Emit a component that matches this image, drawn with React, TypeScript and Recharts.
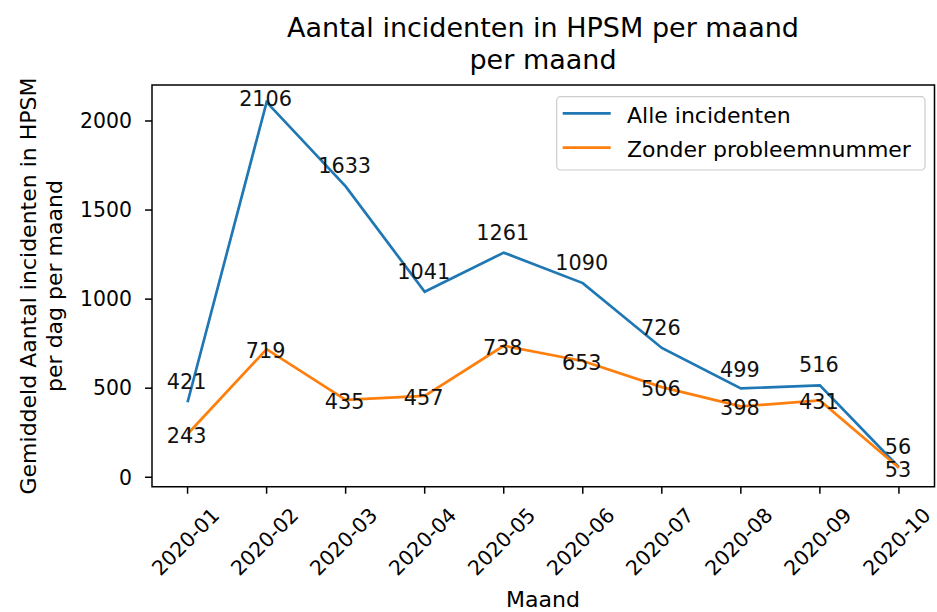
import React from 'react';
import { LineChart, Line, XAxis, YAxis, ReferenceArea, LabelList } from 'recharts';

const months = ['2020-01', '2020-02', '2020-03', '2020-04', '2020-05', '2020-06', '2020-07', '2020-08', '2020-09', '2020-10'];
const alleIncidenten = [421, 2106, 1633, 1041, 1261, 1090, 726, 499, 516, 56];
const zonderProbleemnummer = [243, 719, 435, 457, 738, 653, 506, 398, 431, 53];
const yTicks = [0, 500, 1000, 1500, 2000];
const titleLines = ['Aantal incidenten in HPSM per maand', 'per maand'];
const yLabelLines = ['Gemiddeld Aantal incidenten in HPSM', 'per dag per maand'];
const xLabelText = 'Maand';
const seriesNames = ['Alle incidenten', 'Zonder probleemnummer'];

const BLUE = '#1f77b4';
const ORANGE = '#ff7f0e';
const FONT = 'DejaVu Sans, sans-serif';

const data = months.map((m, i) => ({ x: i, month: m, alle: alleIncidenten[i], zonder: zonderProbleemnummer[i] }));

const XTick = (props: any) => {
  const { x, y, payload } = props;
  const label = months[payload.value];
  const cx = x - 2;
  const cy = y + 48;
  return (
    <text
      x={cx}
      y={cy}
      textAnchor="middle"
      dominantBaseline="central"
      transform={`rotate(-45, ${cx}, ${cy})`}
      fontSize={20.4}
      fontFamily={FONT}
      fill="#000"
    >
      {label}
    </text>
  );
};

const makeLabel = (kind: 'alle' | 'zonder') => (props: any) => {
  const { x, y, value, index } = props;
  let dy = 2;
  if (kind === 'alle') {
    dy = index === 1 ? -3 : index === 7 ? -18 : -20;
  }
  return (
    <text
      x={x - 1}
      y={y + dy}
      textAnchor="middle"
      dominantBaseline="central"
      fontSize={20.8}
      fontFamily={FONT}
      fill="#111"
    >
      {value}
    </text>
  );
};

const Overlay = () => (
  <g fontFamily={FONT} fill="#000">
    <text x={543} y={37} textAnchor="middle" fontSize={27}>{titleLines[0]}</text>
    <text x={543} y={69} textAnchor="middle" fontSize={27}>{titleLines[1]}</text>
    <text x={543} y={607} textAnchor="middle" fontSize={22}>{xLabelText}</text>
    <text x={36} y={286} textAnchor="middle" fontSize={22} transform="rotate(-90, 36, 286)">{yLabelLines[0]}</text>
    <text x={62} y={286} textAnchor="middle" fontSize={22} transform="rotate(-90, 62, 286)">{yLabelLines[1]}</text>
    <rect x={556.7} y={96.7} width={368.3} height={73.3} rx={4} ry={4} fill="#fff" fillOpacity={0.8} stroke="#cccccc" strokeWidth={1.2} />
    <line x1={562.7} x2={610.7} y1={113.3} y2={113.3} stroke={BLUE} strokeWidth={2.8} />
    <line x1={562.7} x2={610.7} y1={147.7} y2={147.7} stroke={ORANGE} strokeWidth={2.8} />
    <text x={627} y={122.7} fontSize={22}>{seriesNames[0]}</text>
    <text x={627} y={156.7} fontSize={22}>{seriesNames[1]}</text>
  </g>
);

export default function App() {
  return (
    <div style={{ position: 'absolute', left: 0, top: 0, background: '#fff' }}>
      <LineChart width={937} height={612} data={data} margin={{ top: 85, right: 2.5, bottom: 0, left: 0 }}>
        <XAxis
          type="number"
          dataKey="x"
          domain={[-0.45, 9.45]}
          ticks={[0, 1, 2, 3, 4, 5, 6, 7, 8, 9]}
          allowDataOverflow
          height={125.3}
          axisLine={false}
          tickLine={{ stroke: '#000', strokeWidth: 1.5 }}
          tickSize={7}
          tickMargin={0}
          tick={<XTick />}
          interval={0}
          label={<Overlay />}
        />
        <YAxis
          type="number"
          domain={[-53, 2202]}
          ticks={yTicks}
          allowDataOverflow
          width={152}
          axisLine={false}
          tickLine={{ stroke: '#000', strokeWidth: 1.5 }}
          tickSize={7}
          tickMargin={13}
          tick={{ fontSize: 20.4, fontFamily: FONT, fill: '#000' }}
          interval={0}
        />
        <ReferenceArea x1={-0.45} x2={9.45} y1={-53} y2={2202} fill="none" stroke="#000" strokeWidth={1.5} ifOverflow="visible" />
        <Line type="linear" dataKey="alle" stroke={BLUE} strokeWidth={2.7} dot={false} activeDot={false} isAnimationActive={false}>
          <LabelList dataKey="alle" content={makeLabel('alle')} />
        </Line>
        <Line type="linear" dataKey="zonder" stroke={ORANGE} strokeWidth={2.7} dot={false} activeDot={false} isAnimationActive={false}>
          <LabelList dataKey="zonder" content={makeLabel('zonder')} />
        </Line>
      </LineChart>
    </div>
  );
}
